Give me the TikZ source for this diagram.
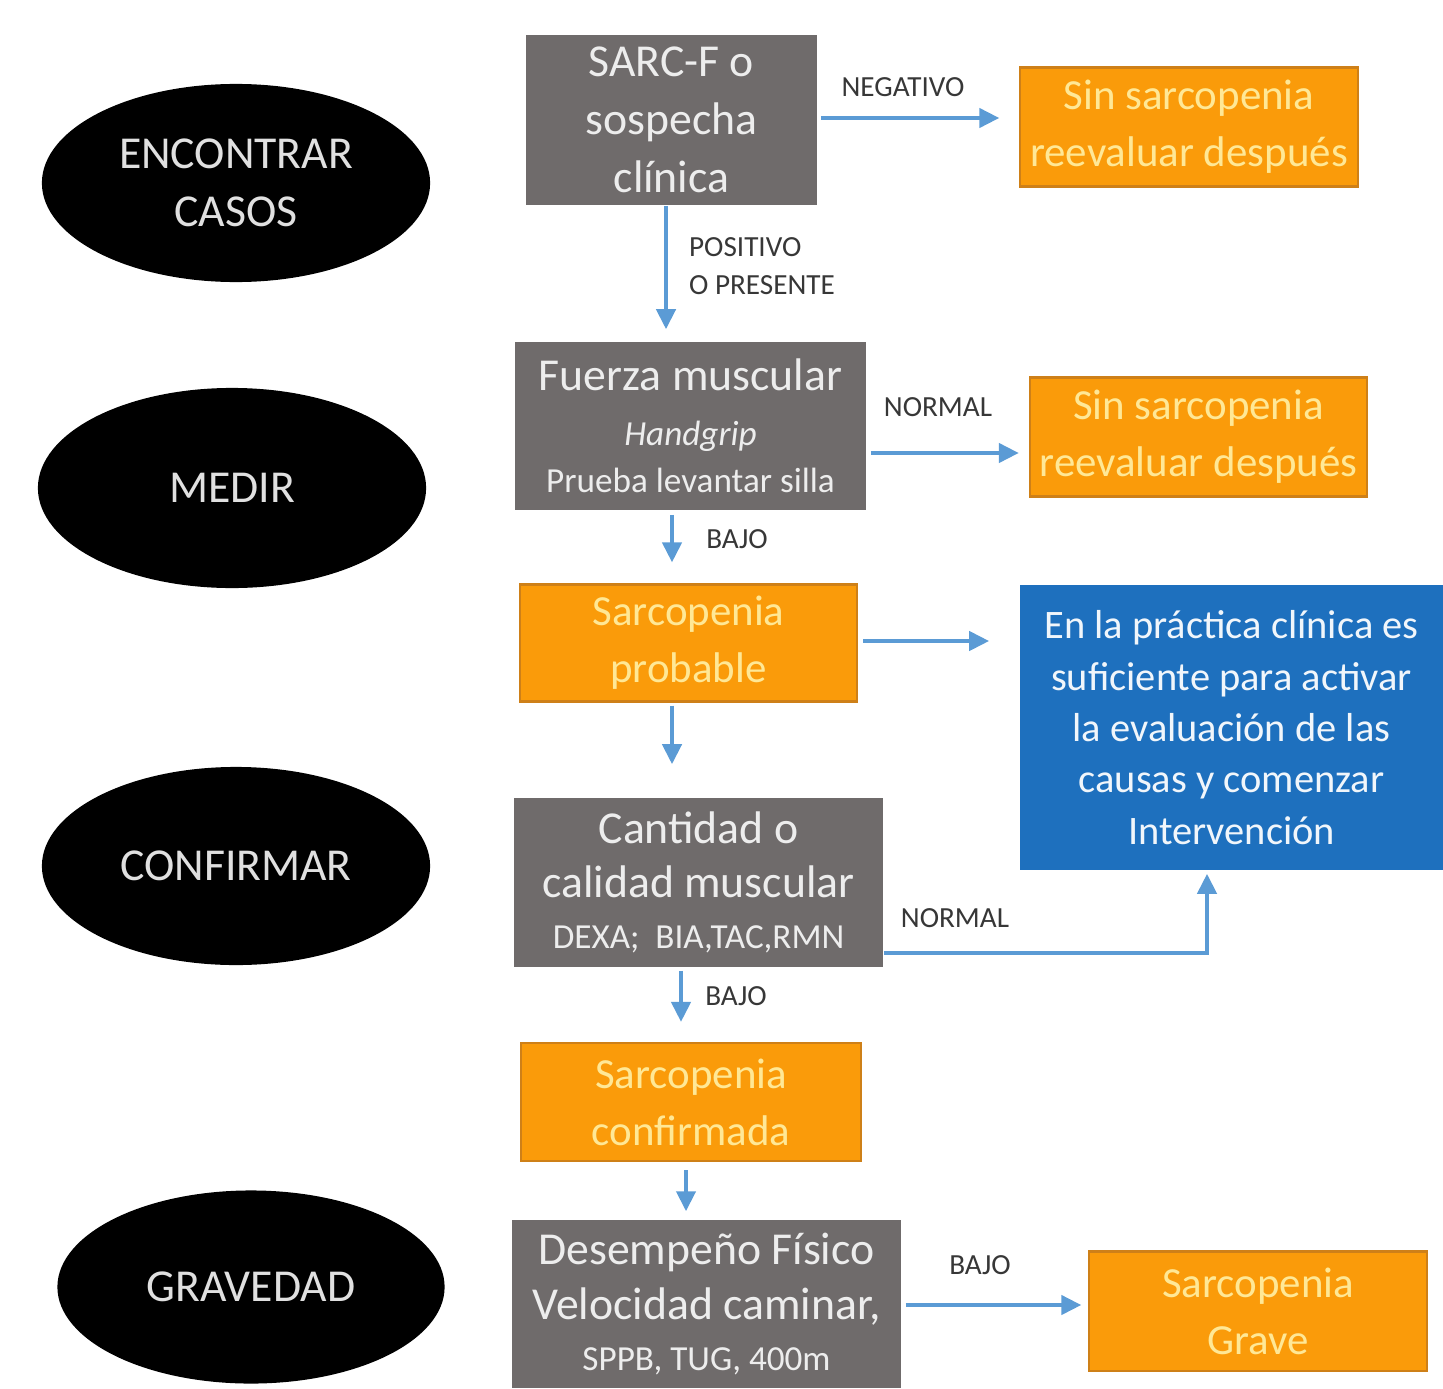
\documentclass[tikz,border=0pt]{standalone}
\usepackage{fontspec}
\setmainfont{Carlito}
\usetikzlibrary{arrows.meta, positioning, calc, shapes.geometric}

\definecolor{boxgray}{RGB}{111,107,107}
\definecolor{boxorange}{RGB}{250,155,10}
\definecolor{orangeedge}{RGB}{206,128,24}
\definecolor{boxblue}{RGB}{30,112,190}
\definecolor{arrowblue}{RGB}{91,155,213}
\definecolor{paleyellow}{RGB}{255,232,150}
\definecolor{tagtext}{RGB}{55,55,55}

\newcommand{\smalltxt}{\fontsize{10}{12}\selectfont}

\begin{document}
\begin{tikzpicture}[
  x=0.01cm, y=-0.01cm,
  every node/.style = {align=center, inner sep=2pt},
  phase/.style = {ellipse, fill=black, text=white!88!black,
    minimum width=3.88cm, minimum height=1.98cm,
    font=\fontsize{13}{16.5}\selectfont},
  test/.style = {rectangle, fill=boxgray, text=white!93!black,
    font=\fontsize{13}{15.5}\selectfont},
  result/.style = {rectangle, fill=boxorange, draw=orangeedge, line width=0.6pt,
    text=paleyellow, minimum width=3.37cm, minimum height=1.19cm,
    font=\fontsize{12.2}{16.2}\selectfont},
  note/.style = {rectangle, fill=boxblue, text=white!94!boxblue,
    font=\fontsize{11.5}{14.6}\selectfont},
  tag/.style = {text=tagtext, font=\fontsize{8.3}{11}\selectfont},
  arrow/.style = {draw=arrowblue, line width=1.2pt,
    -{Triangle[length=0.2cm, width=0.19cm]}}
]
\useasboundingbox (0,0) rectangle (1443,1388);

% Phases (left column)
\node[phase] (casos) at (236,183) {ENCONTRAR\\CASOS};
\node[phase, minimum height=2cm] (medir) at (232,488) {MEDIR};
\node[phase] (confirmar) at (236,866) {CONFIRMAR};
\node[phase, minimum width=3.87cm, minimum height=1.93cm] (gravedad) at (251,1287) {GRAVEDAD};

% Tests (middle column)
\node[test, minimum width=2.91cm, minimum height=1.70cm,
      font=\fontsize{13}{16.5}\selectfont] (sarc) at (671.5,120) {SARC-F o\\sospecha\\clínica};
\node[test, minimum width=3.51cm, minimum height=1.68cm] (fuerza) at (690.5,426)
  {Fuerza muscular\\{\smalltxt\itshape Handgrip}\\[-2pt]{\smalltxt Prueba\ levantar silla}};
\node[result, minimum height=1.17cm] (probable) at (688.5,643) {Sarcopenia\\probable};
\node[test, minimum width=3.69cm, minimum height=1.69cm] (cantidad) at (698.5,882.5)
  {Cantidad o\\calidad muscular\\[-1pt]{\smalltxt DEXA;\ \ BIA,TAC,RMN}};
\node[result, minimum width=3.40cm, minimum height=1.18cm] (confirmada) at (691,1102) {Sarcopenia\\confirmada};
\node[test, minimum width=3.89cm, minimum height=1.68cm] (desempeno) at (706.5,1304)
  {Desempeño Físico\\Velocidad caminar,\\[-1pt]{\smalltxt SPPB, TUG, 400m}};

% Outcomes (right column)
\node[result] (sin1) at (1189,127) {Sin sarcopenia\\reevaluar después};
\node[result] (sin2) at (1198.5,437) {Sin sarcopenia\\reevaluar después};
\node[note, minimum width=4.23cm, minimum height=2.85cm] (nota) at (1231.5,727.5)
  {En la práctica clínica es\\suficiente para activar\\la evaluación de las\\causas y comenzar\\Intervención};
\node[result] (grave) at (1258,1311) {Sarcopenia\\Grave};

% === ARROWS ===
\draw[arrow, shorten <=0.03cm, shorten >=0.2cm] (sarc.east |- 0,118) -- (sin1.west |- 0,118);
\draw[arrow, shorten >=0.12cm] (sarc.south -| 666,0) -- (fuerza.north -| 666,0);
\draw[arrow, shorten <=0.04cm, shorten >=0.1cm] (fuerza.east |- 0,453) -- (sin2.west |- 0,453);
\draw[arrow, shorten <=0.04cm, shorten >=0.21cm] (fuerza.south -| 672,0) -- (probable.north -| 672,0);
\draw[arrow, shorten <=0.05cm, shorten >=0.3cm] (probable.east |- 0,641) -- (nota.west |- 0,641);
\draw[arrow, shorten <=0.03cm, shorten >=0.33cm] (probable.south -| 672,0) -- (cantidad.north -| 672,0);
\draw[arrow, shorten >=0.03cm] (cantidad.east |- 0,953) -| (nota.south -| 1207,0);
\draw[arrow, shorten <=0.03cm, shorten >=0.2cm] (cantidad.south -| 681,0) -- (confirmada.north -| 681,0);
\draw[arrow, shorten <=0.08cm, shorten >=0.08cm] (confirmada.south -| 686,0) -- (desempeno.north -| 686,0);
\draw[arrow, shorten <=0.04cm, shorten >=0.07cm] (desempeno.east |- 0,1305) -- (grave.west |- 0,1305);

% Arrow labels
\node[tag] (negativo) at (903,87) {NEGATIVO};
\node[tag, align=left] (positivo) at (762,266) {POSITIVO\\O PRESENTE};
\node[tag] (normal1) at (938,407) {NORMAL};
\node[tag] (bajo1) at (737,539) {BAJO};
\node[tag] (normal2) at (955,918) {NORMAL};
\node[tag] (bajo2) at (736,996) {BAJO};
\node[tag] (bajo3) at (980,1265) {BAJO};

\end{tikzpicture}
\end{document}
